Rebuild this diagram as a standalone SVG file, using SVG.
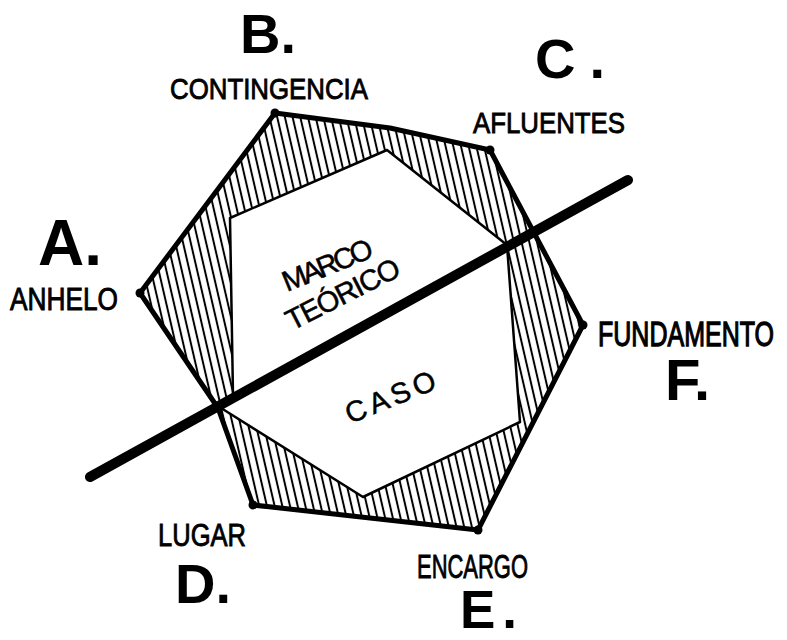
<svg xmlns="http://www.w3.org/2000/svg" width="787" height="640" viewBox="0 0 787 640">
<style>
.big{font-family:"Liberation Sans","DejaVu Sans",sans-serif;font-weight:bold;fill:#000}
.lbl{font-family:"Liberation Sans","DejaVu Sans",sans-serif;fill:#000;stroke:#000;stroke-width:0.9}
.ctr{font-family:"Liberation Sans","DejaVu Sans",sans-serif;font-size:29px;fill:#000;stroke:#000;stroke-width:0.5}
.outer{fill:none;stroke:#000;stroke-width:5;stroke-linejoin:round;stroke-linecap:round}
.inner{fill:none;stroke:#000;stroke-width:2.5;stroke-linejoin:round}
.dot{fill:#000}
</style>
<defs>
<pattern id="hatch" width="7.5" height="8" patternUnits="userSpaceOnUse" patternTransform="rotate(-13)">
<line x1="3.75" y1="0" x2="3.75" y2="8" stroke="#000" stroke-width="2"/>
</pattern>
</defs>
<rect width="787" height="640" fill="#fff"/>
<g id="ring">
<path fill="url(#hatch)" fill-rule="evenodd" d="M140,293 L275,113 L390,128 L490,150 L583,325 L478,530 L370,518 L253,505 L218,408 Z M230,218 L387,150 L507,245 L520,422 L363,497 L221,408 L233,395 Z"/>
<path class="outer" d="M140,293 L275,113 L390,128 L490,150 L583,325 L478,530 L370,518 L253,505 L218,408 Z"/>
<path class="inner" d="M230,218 L387,150 L507,245 L520,422 L363,497 L221,408 L233,395 Z"/>
</g>
<g id="connectors">
<line x1="90" y1="477" x2="628" y2="180" stroke="#000" stroke-width="10" stroke-linecap="round"/>
</g>
<g id="node-A">
<circle class="dot" cx="140" cy="293" r="4.5"/>
<text class="big" x="38" y="265" font-size="64">A.</text>
<text class="lbl" x="10" y="310" font-size="31" textLength="108" lengthAdjust="spacingAndGlyphs">ANHELO</text>
</g>
<g id="node-B">
<circle class="dot" cx="275" cy="113" r="4.5"/>
<text class="big" x="240" y="53" font-size="56">B.</text>
<text class="lbl" x="170" y="99" font-size="30" textLength="198" lengthAdjust="spacingAndGlyphs">CONTINGENCIA</text>
</g>
<g id="node-C">
<circle class="dot" cx="490" cy="150" r="4.5"/>
<text class="big" x="535" y="78" font-size="56">C<tspan dx="14">.</tspan></text>
<text class="lbl" x="473" y="133" font-size="30" textLength="152" lengthAdjust="spacingAndGlyphs">AFLUENTES</text>
</g>
<g id="node-F">
<circle class="dot" cx="583" cy="325" r="4.5"/>
<text class="lbl" transform="translate(598,346) scale(1,1.4)" font-size="25" textLength="176" lengthAdjust="spacingAndGlyphs">FUNDAMENTO</text>
<text class="big" x="665" y="400" font-size="58">F.</text>
</g>
<g id="node-E">
<circle class="dot" cx="478" cy="530" r="4.5"/>
<text class="lbl" x="417" y="578" font-size="34" textLength="111" lengthAdjust="spacingAndGlyphs">ENCARGO</text>
<text class="big" x="460" y="628" font-size="53">E<tspan dx="7">.</tspan></text>
</g>
<g id="node-D">
<circle class="dot" cx="253" cy="505" r="4.5"/>
<text class="lbl" x="158" y="546" font-size="32" textLength="88" lengthAdjust="spacingAndGlyphs">LUGAR</text>
<text class="big" x="175" y="603" font-size="56">D.</text>
</g>
<g id="marco-teorico">
<text class="ctr" transform="translate(287,292) rotate(-22)" textLength="95" lengthAdjust="spacing">MARCO</text>
<text class="ctr" transform="translate(292,331) rotate(-27)" textLength="124" lengthAdjust="spacing">TEÓRICO</text>
</g>
<g id="caso">
<text class="ctr" transform="translate(350,424) rotate(-22)" textLength="95" lengthAdjust="spacing">CASO</text>
</g>
</svg>
